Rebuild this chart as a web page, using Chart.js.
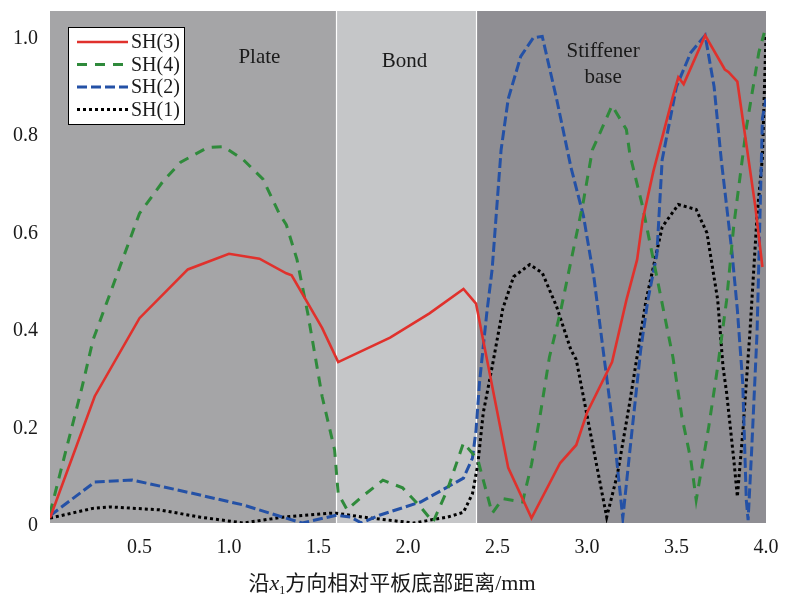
<!DOCTYPE html>
<html>
<head>
<meta charset="utf-8">
<script src="https://cdn.jsdelivr.net/npm/chart.js@4.4.0/dist/chart.umd.min.js"></script>
<style>
  html, body { margin: 0; padding: 0; background: #fff; }
  #wrap { width: 785px; height: 596px; }
</style>
</head>
<body>
<div id="wrap"><canvas id="c" width="785" height="596"></canvas></div>
<script>
// Axis ticks
const xTicks = [0.5, 1.0, 1.5, 2.0, 2.5, 3.0, 3.5, 4.0];
const yTicks = [0, 0.2, 0.4, 0.6, 0.8, 1.0];

// Structural zones along x1 (mm)
const zoneNames = ['Plate', 'Bond', 'Stiffener base'];
const zoneEdges = [0, 1.6, 2.38, 4.0];
const zoneColors = ['#a5a5a7', '#c5c6c8', '#8f8e93'];
// Zone caption anchors [x, y] in data units, one caption line per entry
const zoneCaptions = [
  { text: ['Plate'], at: [1.17, 0.955] },
  { text: ['Bond'], at: [1.98, 0.947] },
  { text: ['Stiffener', 'base'], at: [3.09, 0.968] }
];

// SH(3)
const sh3X = [0, 0.25, 0.5, 0.77, 1.0, 1.17, 1.32, 1.35, 1.52, 1.61, 1.9, 2.12, 2.31, 2.38, 2.46, 2.56, 2.69, 2.85, 2.94, 3.0, 3.14, 3.22, 3.28, 3.31, 3.37, 3.48, 3.51, 3.54, 3.66, 3.77, 3.79, 3.84, 3.94, 3.98];
const sh3Y = [0.01, 0.26, 0.42, 0.52, 0.552, 0.542, 0.512, 0.508, 0.40, 0.33, 0.38, 0.43, 0.48, 0.45, 0.30, 0.113, 0.01, 0.123, 0.16, 0.226, 0.33, 0.457, 0.54, 0.62, 0.72, 0.875, 0.914, 0.90, 1.0, 0.93, 0.925, 0.905, 0.65, 0.525];

// SH(4)
const sh4X = [0, 0.18, 0.24, 0.39, 0.5, 0.63, 0.73, 0.88, 0.97, 1.08, 1.19, 1.28, 1.32, 1.38, 1.44, 1.52, 1.59, 1.61, 1.66, 1.73, 1.86, 1.97, 2.07, 2.14, 2.22, 2.31, 2.39, 2.47, 2.53, 2.64, 2.69, 2.74, 2.79, 2.85, 2.98, 3.03, 3.14, 3.22, 3.24, 3.31, 3.39, 3.48, 3.53, 3.58, 3.61, 3.68, 3.73, 3.78, 3.82, 3.89, 3.96, 3.99];
const sh4Y = [0.02, 0.28, 0.375, 0.525, 0.635, 0.70, 0.74, 0.77, 0.772, 0.745, 0.705, 0.635, 0.612, 0.54, 0.43, 0.26, 0.15, 0.06, 0.027, 0.05, 0.088, 0.072, 0.033, 0.002, 0.068, 0.164, 0.13, 0.02, 0.05, 0.043, 0.12, 0.225, 0.34, 0.43, 0.66, 0.765, 0.856, 0.807, 0.755, 0.65, 0.505, 0.34, 0.218, 0.13, 0.047, 0.197, 0.32, 0.457, 0.61, 0.81, 0.965, 1.005];

// SH(2)
const sh2X = [0, 0.25, 0.46, 0.71, 1.08, 1.30, 1.41, 1.60, 1.68, 1.74, 1.84, 2.07, 2.31, 2.36, 2.38, 2.40, 2.44, 2.47, 2.52, 2.56, 2.63, 2.70, 2.75, 2.83, 2.91, 2.98, 3.04, 3.09, 3.15, 3.20, 3.24, 3.30, 3.34, 3.39, 3.42, 3.50, 3.58, 3.66, 3.71, 3.75, 3.81, 3.84, 3.87, 3.89, 3.90, 3.92, 3.95, 3.98, 4.0];
const sh2Y = [0.015, 0.084, 0.088, 0.068, 0.037, 0.012, 0.0, 0.016, 0.012, 0.0, 0.016, 0.043, 0.092, 0.133, 0.19, 0.29, 0.43, 0.52, 0.765, 0.87, 0.957, 0.995, 0.998, 0.87, 0.73, 0.63, 0.5, 0.355, 0.185, 0.01, 0.15, 0.355, 0.457, 0.55, 0.745, 0.895, 0.965, 1.0, 0.895, 0.745, 0.555, 0.437, 0.287, 0.047, 0.006, 0.15, 0.39, 0.83, 0.87];

// SH(1)
const sh1X = [0, 0.24, 0.34, 0.61, 0.84, 1.08, 1.30, 1.56, 1.60, 1.75, 2.03, 2.22, 2.31, 2.36, 2.39, 2.42, 2.47, 2.53, 2.59, 2.68, 2.75, 2.83, 2.91, 2.94, 3.03, 3.11, 3.17, 3.24, 3.33, 3.42, 3.51, 3.61, 3.67, 3.73, 3.76, 3.78, 3.82, 3.84, 3.87, 3.91, 3.95, 3.98, 4.0];
const sh1Y = [0.01, 0.03, 0.033, 0.027, 0.012, 0.0, 0.012, 0.02, 0.02, 0.012, 0.0, 0.012, 0.022, 0.06, 0.12, 0.225, 0.32, 0.44, 0.505, 0.53, 0.513, 0.444, 0.355, 0.335, 0.164, 0.012, 0.10, 0.25, 0.457, 0.607, 0.653, 0.643, 0.595, 0.458, 0.32, 0.267, 0.13, 0.054, 0.185, 0.39, 0.63, 0.75, 1.0];

const seriesNames = ['SH(3)', 'SH(4)', 'SH(2)', 'SH(1)'];

const pts = (xs, ys) => xs.map((x, i) => ({ x, y: ys[i] }));

const SERIF = '"Liberation Serif", "Times New Roman", serif';
const CJK = '"Noto Sans CJK SC", sans-serif';

const line = (label, data, color, width, dash) => ({
  label, data,
  borderColor: color, backgroundColor: color,
  borderWidth: width, borderDash: dash,
  pointRadius: 0, tension: 0, fill: false
});

const datasets = [
  line(seriesNames[0], pts(sh3X, sh3Y), '#e0312c', 2.6, []),
  line(seriesNames[1], pts(sh4X, sh4Y), '#2f8a3b', 3, [10, 8]),
  line(seriesNames[2], pts(sh2X, sh2Y), '#2451a6', 3, [10, 4]),
  line(seriesNames[3], pts(sh1X, sh1Y), '#000000', 3, [3, 3])
];

// keep the plot box fixed: no extra room reserved for half tick labels
const noEdgePadding = s => {
  s.paddingTop = 0; s.paddingBottom = 0; s.paddingLeft = 0; s.paddingRight = 0;
};

const decor = {
  id: 'decor',
  beforeDraw(chart) {
    const { ctx, chartArea: a, scales: { x } } = chart;
    ctx.save();
    ctx.fillStyle = '#ffffff';
    ctx.fillRect(0, 0, chart.width, chart.height);
    for (let i = 0; i < zoneNames.length; i++) {
      const l = x.getPixelForValue(zoneEdges[i]);
      const r = x.getPixelForValue(zoneEdges[i + 1]);
      ctx.fillStyle = zoneColors[i];
      ctx.fillRect(l, a.top, r - l, a.bottom - a.top);
    }
    ctx.strokeStyle = '#ffffff';
    ctx.lineWidth = 1.2;
    for (let i = 1; i < zoneEdges.length - 1; i++) {
      const px = Math.round(x.getPixelForValue(zoneEdges[i])) + 0.5;
      ctx.beginPath();
      ctx.moveTo(px, a.top);
      ctx.lineTo(px, a.bottom);
      ctx.stroke();
    }
    ctx.restore();
  },
  beforeDatasetsDraw(chart) {
    const { ctx, scales: { x, y } } = chart;
    ctx.save();
    ctx.fillStyle = '#1a1a1a';
    ctx.font = '21px ' + SERIF;
    ctx.textAlign = 'center';
    ctx.textBaseline = 'middle';
    zoneCaptions.forEach(c => {
      const px = x.getPixelForValue(c.at[0]);
      const py = y.getPixelForValue(c.at[1]);
      c.text.forEach((t, k) => ctx.fillText(t, px, py + k * 26));
    });
    ctx.restore();
  },
  afterDraw(chart) {
    const { ctx, chartArea: a } = chart;
    ctx.save();
    // legend box
    const bx = a.left + 18, by = a.top + 16, bw = 116, bh = 97;
    ctx.fillStyle = '#ffffff';
    ctx.fillRect(bx, by, bw, bh);
    ctx.strokeStyle = '#000000';
    ctx.lineWidth = 1;
    ctx.setLineDash([]);
    ctx.strokeRect(bx + 0.5, by + 0.5, bw, bh);
    ctx.font = '20px ' + SERIF;
    ctx.textBaseline = 'middle';
    ctx.textAlign = 'left';
    chart.data.datasets.forEach((ds, i) => {
      const ry = by + 15 + i * 22.5;
      ctx.strokeStyle = ds.borderColor;
      ctx.lineWidth = ds.borderWidth;
      ctx.setLineDash(ds.borderDash);
      ctx.beginPath();
      ctx.moveTo(bx + 9, ry);
      ctx.lineTo(bx + 60, ry);
      ctx.stroke();
      ctx.setLineDash([]);
      ctx.fillStyle = '#1a1a1a';
      ctx.fillText(ds.label, bx + 63, ry + 1);
    });

    // x-axis title: 沿x1方向相对平板底部距离/mm
    const parts = [
      { t: '沿', f: '21px ' + CJK, dy: 0 },
      { t: 'x', f: 'italic 22px ' + SERIF, dy: 0 },
      { t: '1', f: '12px ' + SERIF, dy: 4 },
      { t: '方向相对平板底部距离', f: '21px ' + CJK, dy: 0 },
      { t: '/mm', f: '22px ' + SERIF, dy: 0 }
    ];
    let total = 0;
    parts.forEach(p => { ctx.font = p.f; p.w = ctx.measureText(p.t).width; total += p.w; });
    let cx = 392 - total / 2;
    const base = 590;
    ctx.fillStyle = '#1a1a1a';
    ctx.textBaseline = 'alphabetic';
    parts.forEach(p => {
      ctx.font = p.f;
      ctx.fillText(p.t, cx, base + p.dy);
      cx += p.w;
    });
    ctx.restore();
  }
};

new Chart(document.getElementById('c'), {
  type: 'line',
  data: { datasets },
  options: {
    responsive: false,
    animation: false,
    devicePixelRatio: 1,
    layout: { padding: { left: 0, right: 19, top: 11, bottom: 0 } },
    plugins: { legend: { display: false }, tooltip: { enabled: false } },
    scales: {
      x: {
        type: 'linear',
        min: 0, max: 4.0,
        grid: { display: false, drawTicks: false },
        border: { display: false },
        afterBuildTicks: s => { s.ticks = xTicks.map(v => ({ value: v })); },
        afterFit: s => { s.height = 73; noEdgePadding(s); },
        ticks: {
          padding: 13,
          color: '#1a1a1a',
          font: { family: SERIF, size: 20 },
          maxRotation: 0,
          autoSkip: false,
          callback: v => v.toFixed(1)
        }
      },
      y: {
        type: 'linear',
        min: 0, max: 1.05,
        grid: { display: false, drawTicks: false },
        border: { display: false },
        afterBuildTicks: s => { s.ticks = yTicks.map(v => ({ value: v })); },
        afterFit: s => { s.width = 50; noEdgePadding(s); },
        ticks: {
          padding: 12,
          labelOffset: 3,
          color: '#1a1a1a',
          font: { family: SERIF, size: 20 },
          autoSkip: false,
          callback: v => (v === 0 ? '0' : v.toFixed(1))
        }
      }
    }
  },
  plugins: [decor]
});
</script>
</body>
</html>
